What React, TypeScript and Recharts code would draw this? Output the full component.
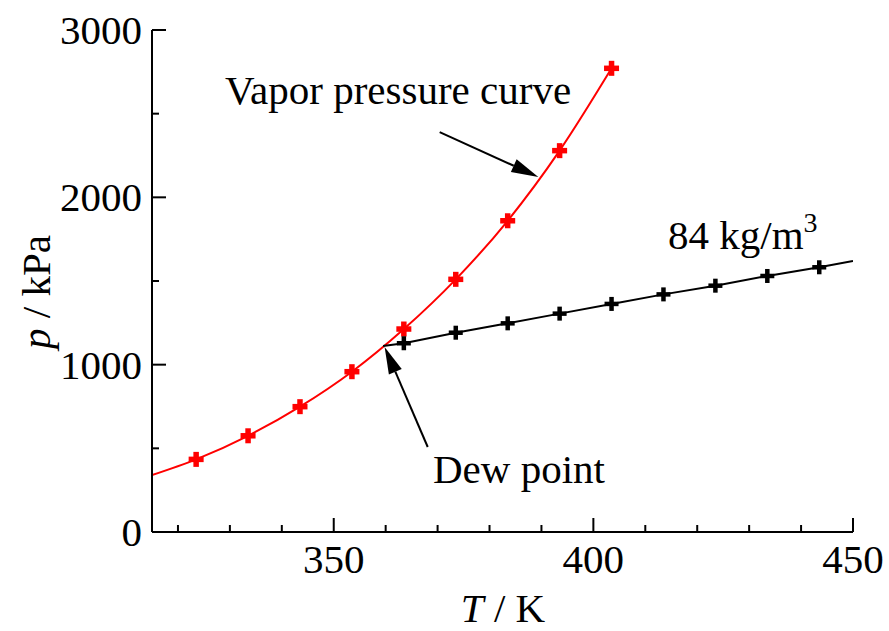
import React from "react";
import {
  ComposedChart,
  Line,
  Scatter,
  XAxis,
  YAxis,
  ReferenceLine,
} from "recharts";

document.body.style.margin = "0";

const FONT = "'Liberation Serif', 'Times New Roman', serif";

// vapor pressure (measured points)
const vaporT = [323.5, 333.5, 343.5, 353.5, 363.5, 373.5, 383.5, 393.5, 403.5];
const vaporP = [434, 575, 749, 958, 1213, 1510, 1860, 2279, 2771];
// fitted curve starts at the left edge of the plot
const vaporCurveStart = { T: 315, p: 340 };

// 84 kg/m3 isochore
const isoT = [363.5, 373.5, 383.5, 393.5, 403.5, 413.5, 423.5, 433.5, 443.5];
const isoP = [1128, 1191, 1247, 1305, 1363, 1420, 1472, 1530, 1582];
const dewPoint = { T: 359.5, p: 1112 };
const isoEnd = { T: 450, p: 1620 };

const xTicks = [320, 330, 340, 350, 360, 370, 380, 390, 400, 410, 420, 430, 440, 450];
const yTicks = [0, 500, 1000, 1500, 2000, 2500, 3000];

const vaporPoints = vaporT.map((T, i) => ({ T, p: vaporP[i] }));
const vaporCurve = [vaporCurveStart, ...vaporPoints];
const isoPoints = isoT.map((T, i) => ({ T, p: isoP[i] }));
const isoLine = [dewPoint, ...isoPoints, isoEnd];

const Plus = (color: string, size: number, thick: number) => (props: any) => {
  const { cx, cy } = props;
  return (
    <g fill={color}>
      <rect x={cx - size / 2} y={cy - thick / 2} width={size} height={thick} />
      <rect x={cx - thick / 2} y={cy - size / 2} width={thick} height={size} />
    </g>
  );
};

const BottomTick = (props: any) => {
  const { x, y, payload } = props;
  const major = payload.value % 50 === 0;
  return (
    <g>
      <line x1={x} x2={x} y1={y} y2={y - (major ? 14 : 7)} stroke="#000" strokeWidth={2} />
      {major && (
        <text x={x} y={y + 41} textAnchor="middle" fontSize={41} fontFamily={FONT} fill="#000">
          {payload.value}
        </text>
      )}
    </g>
  );
};

const TopTick = (props: any) => {
  const { x, y, payload } = props;
  const major = payload.value % 50 === 0;
  return <line x1={x} x2={x} y1={y} y2={y + (major ? 14 : 7)} stroke="#000" strokeWidth={2} />;
};

const LeftTick = (props: any) => {
  const { x, y, payload } = props;
  const major = payload.value % 1000 === 0;
  return (
    <g>
      <line x1={x} x2={x + (major ? 14 : 7)} y1={y} y2={y} stroke="#000" strokeWidth={2} />
      {major && (
        <text x={x - 10} y={y} dy="0.34em" textAnchor="end" fontSize={41} fontFamily={FONT} fill="#000">
          {payload.value}
        </text>
      )}
    </g>
  );
};

const RightTick = (props: any) => {
  const { x, y, payload } = props;
  const major = payload.value % 1000 === 0;
  return <line x1={x} x2={x - (major ? 14 : 7)} y1={y} y2={y} stroke="#000" strokeWidth={2} />;
};

const Arrow = (props: any) => {
  const { x1, y1, x2, y2 } = props;
  const a = Math.atan2(y2 - y1, x2 - x1);
  const L = 27;
  const W = 7;
  const bx = x2 - L * Math.cos(a);
  const by = y2 - L * Math.sin(a);
  const px = -Math.sin(a) * W;
  const py = Math.cos(a) * W;
  return (
    <g>
      <line x1={x1} y1={y1} x2={bx} y2={by} stroke="#000" strokeWidth={2} />
      <polygon points={`${x2},${y2} ${bx + px},${by + py} ${bx - px},${by - py}`} fill="#000" />
    </g>
  );
};

export default function App() {
  return (
    <div style={{ position: "relative", width: 889, height: 631, background: "#fff" }}>
      <ComposedChart width={889} height={631} margin={{ top: 30, right: 36, bottom: 0, left: 0 }}>
        <XAxis
          xAxisId="b"
          dataKey="T"
          type="number"
          domain={[315, 450]}
          ticks={xTicks}
          allowDataOverflow
          height={99}
          tickLine={false}
          tickSize={0}
          tickMargin={0}
          tick={<BottomTick />}
          axisLine={{ stroke: "#000", strokeWidth: 2 }}
          interval={0}
        />
        <XAxis
          xAxisId="t"
          orientation="top"
          dataKey="T"
          type="number"
          domain={[315, 450]}
          ticks={xTicks}
          allowDataOverflow
          height={0}
          tickLine={false}
          tickSize={0}
          tickMargin={0}
          tick={<TopTick />}
          axisLine={{ stroke: "#000", strokeWidth: 2 }}
          interval={0}
        />
        <YAxis
          yAxisId="l"
          type="number"
          domain={[0, 3000]}
          ticks={yTicks}
          allowDataOverflow
          width={152}
          tickLine={false}
          tickSize={0}
          tickMargin={0}
          tick={<LeftTick />}
          axisLine={{ stroke: "#000", strokeWidth: 2 }}
          interval={0}
        />
        <YAxis
          yAxisId="r"
          orientation="right"
          type="number"
          domain={[0, 3000]}
          ticks={yTicks}
          allowDataOverflow
          width={0}
          tickLine={false}
          tickSize={0}
          tickMargin={0}
          tick={<RightTick />}
          axisLine={{ stroke: "#000", strokeWidth: 2 }}
          interval={0}
        />
        <Line
          xAxisId="b"
          yAxisId="l"
          data={vaporCurve}
          dataKey="p"
          type="monotone"
          stroke="#ff0000"
          strokeWidth={2}
          dot={false}
          isAnimationActive={false}
        />
        <Line
          xAxisId="b"
          yAxisId="l"
          data={isoLine}
          dataKey="p"
          type="linear"
          stroke="#000"
          strokeWidth={2}
          dot={false}
          isAnimationActive={false}
        />
        <Scatter
          xAxisId="b"
          yAxisId="l"
          data={vaporPoints}
          dataKey="p"
          shape={Plus("#ff0000", 15, 5.5)}
          isAnimationActive={false}
        />
        <Scatter
          xAxisId="b"
          yAxisId="l"
          data={isoPoints}
          dataKey="p"
          shape={Plus("#000", 14, 4.5)}
          isAnimationActive={false}
        />
        <ReferenceLine
          xAxisId="b"
          yAxisId="l"
          segment={[
            { x: 370.4, y: 2390 },
            { x: 389.4, y: 2122 },
          ]}
          shape={<Arrow />}
        />
        <ReferenceLine
          xAxisId="b"
          yAxisId="l"
          segment={[
            { x: 368.1, y: 508 },
            { x: 359.8, y: 1106 },
          ]}
          shape={<Arrow />}
        />
      </ComposedChart>
      <svg
        width={889}
        height={631}
        style={{ position: "absolute", left: 0, top: 0, pointerEvents: "none" }}
        fontFamily={FONT}
        fontSize={41}
      >
        <text x={225} y={104} fill="#000">Vapor pressure curve</text>
        <text x={668} y={249} fill="#000">
          84 kg/m<tspan fontSize={28} dy={-17}>3</tspan>
        </text>
        <text x={433} y={483} fill="#000">Dew point</text>
        <text x={503} y={622} textAnchor="middle" fill="#000">
          <tspan fontStyle="italic">T</tspan> / K
        </text>
        <text
          x={0}
          y={0}
          transform="translate(50, 292) rotate(-90)"
          textAnchor="middle"
          fill="#000"
        >
          <tspan fontStyle="italic">p</tspan> / kPa
        </text>
      </svg>
    </div>
  );
}
